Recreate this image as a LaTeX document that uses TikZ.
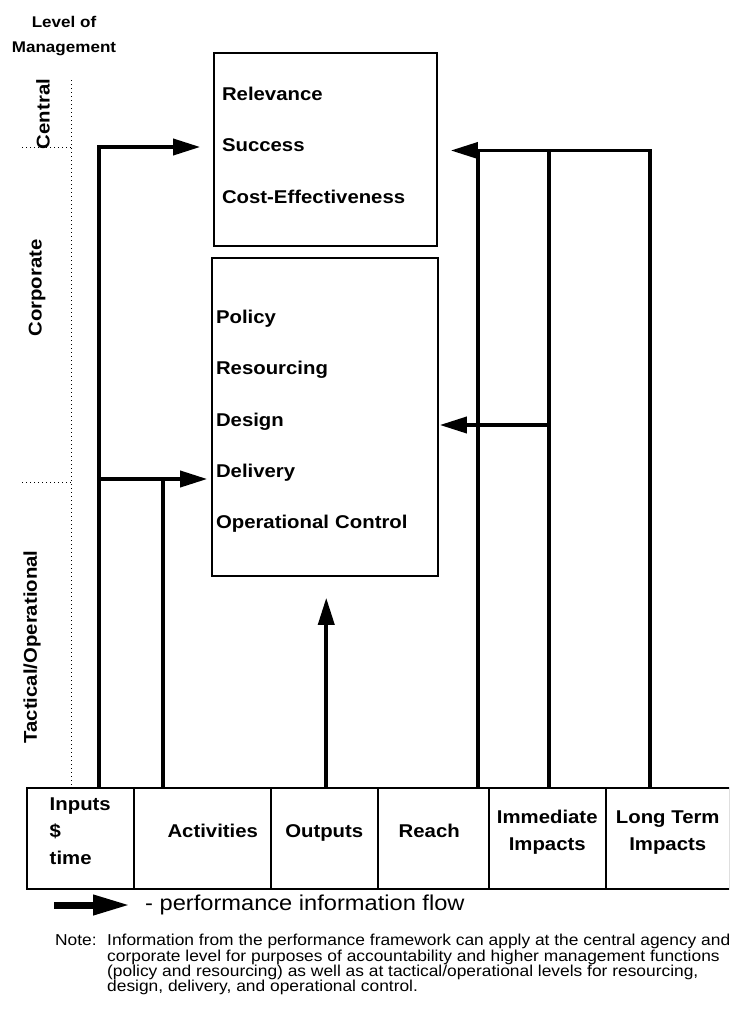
\documentclass[tikz,border=0pt]{standalone}
\usepackage{fontspec}
\setmainfont{Liberation Sans}[FakeStretch=1.1]
\usetikzlibrary{arrows.meta, positioning, calc}
\tikzset{
  pbox/.style  = {draw, line width=1.6pt, inner xsep=8pt, inner ysep=0pt, align=left,
                  font=\bfseries\fontsize{18.5}{51.2}\selectfont},
  cell/.style  = {draw, line width=1.5pt, anchor=north west, inner sep=0pt,
                  minimum height=101pt, align=center, text depth=15pt,
                  font=\bfseries\fontsize{18.5}{27}\selectfont},
  lvl/.style   = {rotate=90, inner sep=0pt, font=\bfseries\fontsize{18.5}{22}\selectfont},
  flow/.style  = {-{Triangle[length=27pt,width=16pt]}, line width=3.6pt},
  stem/.style  = {line width=3.6pt},
  guide/.style = {line width=1pt, dash pattern=on 1pt off 3pt},
}

\begin{document}
\begin{tikzpicture}[x=1pt, y=1pt]
\clip (0,0) rectangle (729,-1013);

% ---- Level of management ----------------------------------------------------
\node[align=center, font=\bfseries\fontsize{15.5}{25}\selectfont] (title) at (64,-36)
  {Level of\\Management};
\node[lvl] (central)  at (43,-114) {Central};
\node[lvl] (corp)     at (37,-288) {Corporate};
\node[lvl] (tactical) at (32,-647) {Tactical/Operational};

\draw[guide] (71,-80) -- (71,-785);
\draw[guide] (22,-147) -- (71,-147);
\draw[guide] (22,-482) -- (71,-482);

% ---- Management boxes -------------------------------------------------------
\node[pbox, minimum width=223pt, minimum height=193pt, text width=207pt, text depth=111pt]
  (cbox) at (325.5,-149.5)
  {Relevance\\Success\\Cost-Effectiveness};
\node[pbox, inner xsep=4pt, minimum width=226pt, minimum height=318pt, text width=218pt,
  text depth=200pt] (obox) at (325,-417)
  {Policy\\Resourcing\\Design\\Delivery\\Operational Control};

% ---- Results chain ----------------------------------------------------------
\node[cell, minimum width=107pt, align=left] (inp) at (26,-787) {Inputs\\\$\\time};
\node[cell, minimum width=137pt] (act) at (133,-787) {\hspace*{21pt}Activities};
\node[cell, minimum width=107pt] (out) at (270,-787) {Outputs};
\node[cell, minimum width=111pt] (rch) at (377,-787) {\hspace*{-8pt}Reach};
\node[cell, minimum width=117pt] (imm) at (488,-787) {Immediate\\Impacts};
\node[cell, minimum width=124pt] (ltm) at (605,-787) {Long Term\\Impacts};

% ---- Stems and arrow ends ---------------------------------------------------
\coordinate (inS)  at ([xshift=18.5pt]inp.north);
\coordinate (actS) at ([xshift=-39.5pt]act.north);
\coordinate (outS) at ([xshift=2pt]out.north);
\coordinate (rchS) at ([xshift=44.5pt]rch.north);
\coordinate (immS) at ([xshift=1.5pt]imm.north);
\coordinate (ltmS) at ([xshift=-18pt]ltm.north);
\coordinate (cIn)  at ([xshift=-13pt,yshift=2.5pt]cbox.west);
\coordinate (cOut) at ([xshift=13pt,yshift=-1pt]cbox.east);
\coordinate (oIn)  at ([xshift=-4pt,yshift=-62pt]obox.west);
\coordinate (oOut) at ([xshift=1pt,yshift=-8pt]obox.east);
\coordinate (oUp)  at ([yshift=-21pt]obox.south);

% ---- Arrows -----------------------------------------------------------------
\draw[flow] (inS) |- (cIn);
\draw[flow] (inS |- oIn) -- (oIn);
\draw[stem] (actS) -- (actS |- oIn);
\draw[flow] (outS) -- (outS |- oUp);
\draw[stem] (ltmS) |- (rchS |- cOut);
\draw[stem] (immS) -- (immS |- cOut);
\draw[flow] (rchS) |- (cOut);
\draw[flow] (immS |- oOut) -- (oOut);

% ---- Legend and note --------------------------------------------------------
\node[anchor=west, inner sep=0pt, font=\fontsize{21.5}{24}\selectfont] (leg) at (145,-905)
  {- performance information flow};
\draw[-{Triangle[length=37pt,width=19pt]}, line width=7pt]
  ([xshift=-91pt]leg.west) -- ([xshift=-15pt]leg.west);

\node[anchor=north west, inner sep=0pt, font=\fontsize{15.8}{15.4}\selectfont] (notelbl)
  at (55,-934) {Note:};
\node[anchor=north west, inner sep=0pt, align=left, font=\fontsize{15.8}{15.4}\selectfont]
  (note) at (107,-934)
  {Information from the performance framework can apply at the central agency and\\
   corporate level for purposes of accountability and higher management functions\\
   (policy and resourcing) as well as at tactical/operational levels for resourcing,\\
   design, delivery, and operational control.};

\end{tikzpicture}
\end{document}
